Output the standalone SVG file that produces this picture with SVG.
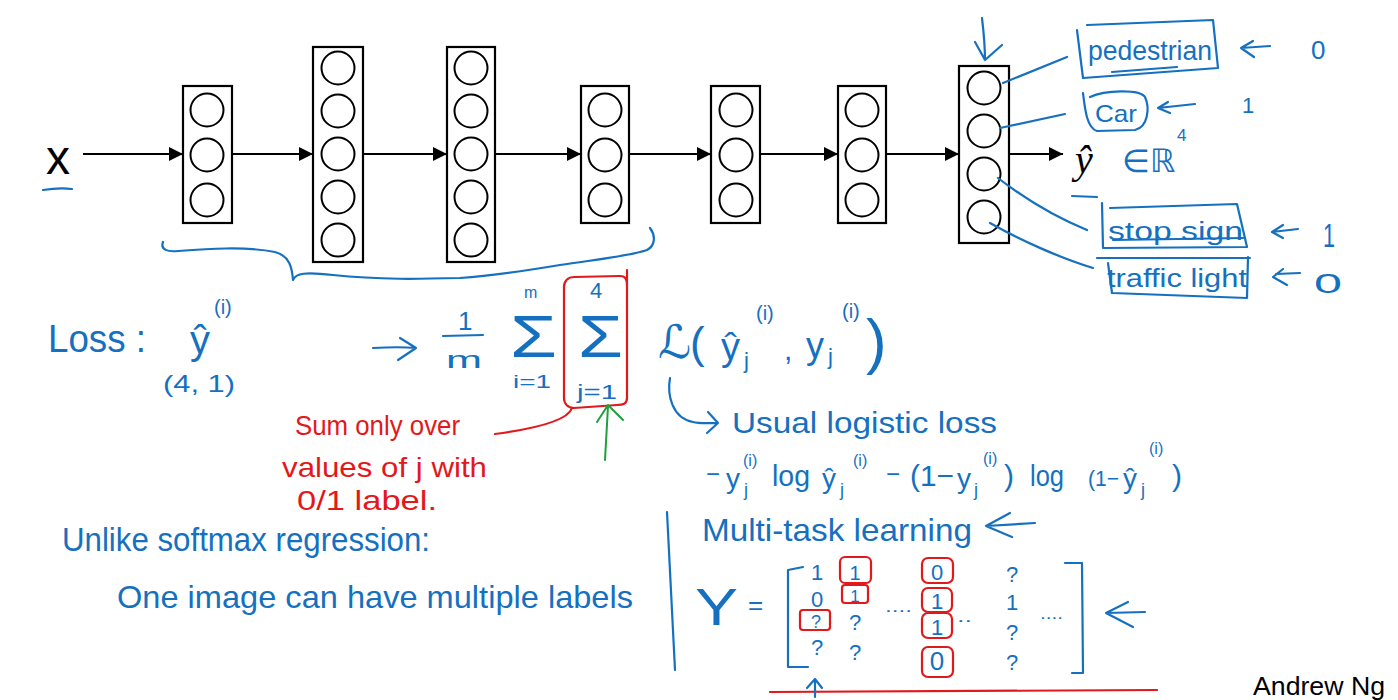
<svg xmlns="http://www.w3.org/2000/svg" width="1398" height="700" viewBox="0 0 1398 700">
<style>
.bg{fill:#fff}
.box{fill:none;stroke:#000;stroke-width:2.2}
.neu{fill:none;stroke:#000;stroke-width:2}
.arr{fill:none;stroke:#000;stroke-width:2;marker-end:url(#ah)}
.bl{fill:none;stroke:#1570c0;stroke-width:2.2;stroke-linecap:round;stroke-linejoin:round}
.rd{fill:none;stroke:#e3181b;stroke-width:2.2;stroke-linecap:round;stroke-linejoin:round}
.gr{fill:none;stroke:#1ea03a;stroke-width:2;stroke-linecap:round;stroke-linejoin:round}
.tb{font-family:"Liberation Sans",Arial,sans-serif;fill:#1570c0}
.tr{font-family:"Liberation Sans",Arial,sans-serif;fill:#e3181b}
.tm{font-family:"DejaVu Sans","Liberation Sans",sans-serif;fill:#1570c0}
.tk{font-family:"Liberation Sans",Arial,sans-serif;fill:#000}
</style>
<defs>
<marker id="ah" markerUnits="userSpaceOnUse" markerWidth="14" markerHeight="14" viewBox="0 0 14 14" refX="14" refY="7" orient="auto">
<path d="M0,0 L14,7 L0,14 z" fill="#000"/>
</marker>
</defs>
<rect class="bg" x="0" y="0" width="1398" height="700"/>

<g id="input-x">
<text class="tk" x="46" y="174" font-size="48">x</text>
<path class="bl" d="M43,190 C55,188 65,188 72,189"/>
</g>

<g id="layer1">
<rect class="box" x="183" y="86" width="49" height="137"/>
<circle class="neu" cx="207" cy="110" r="16.5"/><circle class="neu" cx="207" cy="155" r="16.5"/><circle class="neu" cx="207" cy="200" r="16.5"/>
</g>
<g id="layer2">
<rect class="box" x="313" y="47" width="50" height="215"/>
<circle class="neu" cx="338" cy="68" r="16.5"/><circle class="neu" cx="338" cy="111" r="16.5"/><circle class="neu" cx="338" cy="154" r="16.5"/><circle class="neu" cx="338" cy="197" r="16.5"/><circle class="neu" cx="338" cy="240" r="16.5"/>
</g>
<g id="layer3">
<rect class="box" x="447" y="47" width="48" height="215"/>
<circle class="neu" cx="471" cy="68" r="16.5"/><circle class="neu" cx="471" cy="111" r="16.5"/><circle class="neu" cx="471" cy="154" r="16.5"/><circle class="neu" cx="471" cy="197" r="16.5"/><circle class="neu" cx="471" cy="240" r="16.5"/>
</g>
<g id="layer4">
<rect class="box" x="581" y="86" width="48" height="137"/>
<circle class="neu" cx="605" cy="110" r="16.5"/><circle class="neu" cx="605" cy="155" r="16.5"/><circle class="neu" cx="605" cy="200" r="16.5"/>
</g>
<g id="layer5">
<rect class="box" x="711" y="86" width="49" height="137"/>
<circle class="neu" cx="736" cy="110" r="16.5"/><circle class="neu" cx="736" cy="155" r="16.5"/><circle class="neu" cx="736" cy="200" r="16.5"/>
</g>
<g id="layer6">
<rect class="box" x="838" y="86" width="48" height="137"/>
<circle class="neu" cx="862" cy="110" r="16.5"/><circle class="neu" cx="862" cy="155" r="16.5"/><circle class="neu" cx="862" cy="200" r="16.5"/>
</g>
<g id="output-layer">
<rect class="box" x="959" y="66" width="50" height="177"/>
<circle class="neu" cx="984" cy="88" r="16.5"/><circle class="neu" cx="984" cy="131" r="16.5"/><circle class="neu" cx="984" cy="174" r="16.5"/><circle class="neu" cx="984" cy="217" r="16.5"/>
</g>
<g id="yhat">
<text x="1075" y="173" font-family="'Liberation Serif',serif" font-style="italic" font-size="40" fill="#000">ŷ</text>
<text class="tm" x="1122" y="172" font-size="32">∈ℝ</text>
<text class="tb" x="1177" y="141" font-size="17">4</text>
<path class="bl" d="M1072,196 L1097,197"/>
</g>

<g id="connectors">
<line class="arr" x1="83" y1="154" x2="183" y2="154"/>
<line class="arr" x1="232" y1="154" x2="313" y2="154"/>
<line class="arr" x1="363" y1="154" x2="447" y2="154"/>
<line class="arr" x1="495" y1="154" x2="581" y2="154"/>
<line class="arr" x1="629" y1="154" x2="711" y2="154"/>
<line class="arr" x1="760" y1="154" x2="838" y2="154"/>
<line class="arr" x1="886" y1="154" x2="959" y2="154"/>
<line class="arr" x1="1009" y1="154" x2="1063" y2="154"/>
<path class="bl" d="M1003,83 L1067,57"/>
<path class="bl" d="M1000,128 L1065,114"/>
<path class="bl" d="M998,178 C1020,195 1050,215 1087,230"/>
<path class="bl" d="M990,223 C1020,240 1060,258 1093,268"/>
<path class="bl" d="M982,18 C984,35 985,50 985,60 M975,42 L985,60 L1002,45"/>
</g>

<g id="brace">
<path class="bl" d="M163,242 C160,250 168,252 178,251 C205,249 245,246 275,252 C290,256 292,268 293,280 C296,273 305,272 333,275 C380,280 420,279 460,278 C500,275 530,270 560,265 C600,259 630,256 647,250 C655,246 656,236 650,228"/>
</g>

<g id="label-pedestrian">
<path class="bl" d="M1077,30 L1083,78 L1218,68 L1213,20 L1087,25 M1112,72 L1177,67"/>
<text class="tb" x="1088" y="60" font-size="28" textLength="124" lengthAdjust="spacingAndGlyphs">pedestrian</text>
<path class="bl" d="M1270,46 L1241,48 M1253,41 L1241,48 L1254,57"/>
<text class="tb" x="1311" y="59" font-size="26">0</text>
</g>
<g id="label-car">
<path class="bl" d="M1083,93 C1085,110 1087,128 1097,131 L1135,130 C1148,127 1150,108 1145,97 C1140,89 1105,90 1090,97"/>
<text class="tb" x="1095" y="122" font-size="24" textLength="42" lengthAdjust="spacingAndGlyphs">Car</text>
<path class="bl" d="M1195,104 L1158,108 M1168,102 L1158,108 L1170,113"/>
<text class="tb" x="1242" y="113" font-size="22">1</text>
</g>
<g id="label-stop">
<path class="bl" d="M1102,203 L1103,248 L1247,247 L1237,204 L1110,208 M1113,240 L1243,238"/>
<text class="tb" x="1108" y="240" font-size="26" textLength="135" lengthAdjust="spacingAndGlyphs">stop sign</text>
<path class="bl" d="M1298,229 L1272,232 M1283,225 L1272,232 L1283,238"/>
<text class="tb" x="1323" y="247" font-size="34" textLength="12" lengthAdjust="spacingAndGlyphs">1</text>
</g>
<g id="label-traffic">
<path class="bl" d="M1097,258 L1250,258 M1108,263 L1112,293 L1247,298 L1248,257"/>
<text class="tb" x="1107" y="287" font-size="26" textLength="140" lengthAdjust="spacingAndGlyphs">traffic light</text>
<path class="bl" d="M1300,273 L1276,274 M1283,269 L1273,277 L1287,285"/>
<text class="tb" x="1314" y="293" font-size="28" textLength="28" lengthAdjust="spacingAndGlyphs">0</text>
</g>

<g id="loss-def">
<text class="tb" x="48" y="352" font-size="38" textLength="98" lengthAdjust="spacingAndGlyphs">Loss :</text>
<text class="tb" x="190" y="354" font-size="40">ŷ</text>
<text class="tb" x="214" y="314" font-size="20">(i)</text>
<text class="tb" x="163" y="392" font-size="24" textLength="72" lengthAdjust="spacingAndGlyphs">(4, 1)</text>
</g>

<g id="cost-formula">
<path class="bl" d="M373,348 C390,347 405,347 416,348 M400,338 L416,348 L398,360"/>
<text class="tb" x="458" y="330" font-size="26">1</text>
<path class="bl" d="M443,336 L483,335"/>
<text class="tb" x="446" y="368" font-size="24" textLength="36" lengthAdjust="spacingAndGlyphs">m</text>
<text class="tb" x="510" y="357" font-size="60" textLength="47" lengthAdjust="spacingAndGlyphs">Σ</text>
<text class="tb" x="524" y="298" font-size="16">m</text>
<text class="tb" x="513" y="388" font-size="18" textLength="38" lengthAdjust="spacingAndGlyphs">i=1</text>
<text class="tb" x="578" y="357" font-size="60" textLength="45" lengthAdjust="spacingAndGlyphs">Σ</text>
<text class="tb" x="590" y="298" font-size="22">4</text>
<text class="tb" x="577" y="399" font-size="20" textLength="40" lengthAdjust="spacingAndGlyphs">j=1</text>
<path class="rd" d="M574,277 L620,276 C626,276 627,280 627,286 L627,398 C627,404 623,405 617,405 L574,408 C568,408 564,404 564,398 L564,287 C564,281 568,277 574,277 M627,286 L627,270"/>
<path class="rd" d="M572,408 C568,420 540,428 495,434"/>
<path class="gr" d="M605,460 L608,406 M597,422 L608,405 L623,420"/>
<text class="tm" x="658" y="358" font-size="46">ℒ</text>
<text class="tb" x="690" y="358" font-size="44">(</text>
<text class="tb" x="721" y="360" font-size="38">ŷ</text>
<text class="tb" x="744" y="368" font-size="22">j</text>
<text class="tb" x="756" y="320" font-size="20">(i)</text>
<text class="tb" x="784" y="360" font-size="30">,</text>
<text class="tb" x="806" y="358" font-size="36">y</text>
<text class="tb" x="828" y="364" font-size="22">j</text>
<text class="tb" x="842" y="318" font-size="20">(i)</text>
<text class="tb" x="866" y="362" font-size="62">)</text>
<path class="bl" d="M670,378 C667,395 672,418 693,422 C700,424 710,423 718,423 M708,412 L718,423 L707,433"/>
</g>

<g id="note-red">
<text class="tr" x="295" y="435" font-size="27" textLength="165" lengthAdjust="spacingAndGlyphs">Sum only over</text>
<text class="tr" x="282" y="477" font-size="28" textLength="205" lengthAdjust="spacingAndGlyphs">values of j with</text>
<text class="tr" x="297" y="510" font-size="28" textLength="140" lengthAdjust="spacingAndGlyphs">0/1 label.</text>
</g>

<g id="logistic">
<text class="tb" x="732" y="433" font-size="30" textLength="265" lengthAdjust="spacingAndGlyphs">Usual logistic loss</text>
<text class="tb" x="706" y="482" font-size="24">−</text>
<text class="tb" x="726" y="488" font-size="28">y</text>
<text class="tb" x="744" y="496" font-size="18">j</text>
<text class="tb" x="743" y="466" font-size="16">(i)</text>
<text class="tb" x="772" y="486" font-size="30" textLength="38" lengthAdjust="spacingAndGlyphs">log</text>
<text class="tb" x="822" y="488" font-size="28">ŷ</text>
<text class="tb" x="840" y="496" font-size="18">j</text>
<text class="tb" x="853" y="466" font-size="16">(i)</text>
<text class="tb" x="886" y="482" font-size="24">−</text>
<text class="tb" x="910" y="486" font-size="30" textLength="44" lengthAdjust="spacingAndGlyphs">(1−</text>
<text class="tb" x="957" y="488" font-size="28">y</text>
<text class="tb" x="974" y="496" font-size="18">j</text>
<text class="tb" x="983" y="464" font-size="16">(i)</text>
<text class="tb" x="1004" y="486" font-size="30">)</text>
<text class="tb" x="1030" y="486" font-size="30" textLength="34" lengthAdjust="spacingAndGlyphs">log</text>
<text class="tb" x="1088" y="486" font-size="22" textLength="31" lengthAdjust="spacingAndGlyphs">(1−</text>
<text class="tb" x="1123" y="488" font-size="28">ŷ</text>
<text class="tb" x="1141" y="496" font-size="18">j</text>
<text class="tb" x="1149" y="454" font-size="16">(i)</text>
<text class="tb" x="1172" y="486" font-size="30">)</text>
</g>

<g id="softmax-note">
<text class="tb" x="62" y="551" font-size="34" textLength="368" lengthAdjust="spacingAndGlyphs">Unlike softmax regression:</text>
<text class="tb" x="117" y="608" font-size="32" textLength="516" lengthAdjust="spacingAndGlyphs">One image can have multiple labels</text>
</g>

<g id="multitask">
<path class="bl" d="M667,512 L675,670"/>
<text class="tb" x="702" y="541" font-size="32" textLength="270" lengthAdjust="spacingAndGlyphs">Multi-task learning</text>
<path class="bl" d="M1035,523 L986,526 M1010,513 L986,526 L1012,537"/>
<text class="tb" x="695" y="625" font-size="52" textLength="43" lengthAdjust="spacingAndGlyphs">Y</text>
<text class="tb" x="748" y="614" font-size="26">=</text>
<path class="bl" d="M803,567 L788,570 L788,667 L808,667"/>
<path class="bl" d="M1065,563 L1082,563 L1083,673 L1072,673"/>
<g font-size="22" text-anchor="middle" class="tb">
<text class="tb" x="817" y="580">1</text>
<text class="tb" x="817" y="607">0</text>
<text class="tb" x="816" y="628" font-size="18">?</text>
<text class="tb" x="817" y="655">?</text>
<text class="tb" x="855" y="580" font-size="20">1</text>
<text class="tb" x="855" y="602" font-size="17">1</text>
<text class="tb" x="855" y="630">?</text>
<text class="tb" x="855" y="660">?</text>
<text class="tb" x="937" y="580">0</text>
<text class="tb" x="937" y="609">1</text>
<text class="tb" x="937" y="635">1</text>
<text class="tb" x="937" y="670" font-size="26">0</text>
<text class="tb" x="1012" y="582">?</text>
<text class="tb" x="1012" y="610">1</text>
<text class="tb" x="1012" y="640">?</text>
<text class="tb" x="1012" y="670">?</text>
</g>
<text class="tb" x="885" y="612" font-size="16" textLength="27" lengthAdjust="spacingAndGlyphs">....</text>
<text class="tb" x="957" y="622" font-size="16" textLength="15" lengthAdjust="spacingAndGlyphs">..</text>
<text class="tb" x="1040" y="619" font-size="16" textLength="23" lengthAdjust="spacingAndGlyphs">....</text>
<rect class="rd" x="800" y="610" width="30" height="20" rx="3"/>
<rect class="rd" x="840" y="557" width="31" height="26" rx="5"/>
<rect class="rd" x="842" y="585" width="26" height="18" rx="3"/>
<rect class="rd" x="922" y="558" width="31" height="25" rx="6"/>
<rect class="rd" x="922" y="588" width="30" height="24" rx="6"/>
<rect class="rd" x="922" y="613" width="30" height="25" rx="6"/>
<rect class="rd" x="922" y="647" width="31" height="30" rx="6"/>
<path class="bl" d="M1145,612 L1106,613 M1128,602 L1106,613 L1133,627"/>
<path class="rd" d="M770,692 L1157,690"/>
<path class="bl" d="M815,697 L815,680 M807,688 L815,679 L822,688"/>
</g>

<g id="author">
<text class="tk" x="1253" y="695" font-size="26" textLength="132" lengthAdjust="spacingAndGlyphs">Andrew Ng</text>
</g>
</svg>
